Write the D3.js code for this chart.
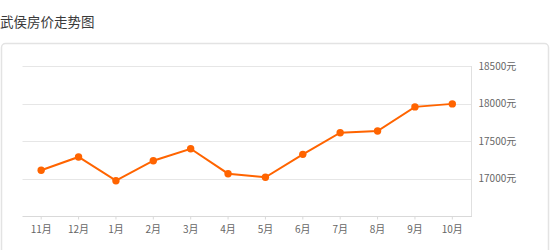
<!DOCTYPE html>
<html><head><meta charset="utf-8">
<script src="https://cdn.jsdelivr.net/npm/d3@7/dist/d3.min.js"></script>
<style>
html,body{margin:0;padding:0;background:#fff;overflow:hidden;}
svg{display:block;font-family:"Noto Sans CJK SC","Microsoft YaHei",sans-serif;}
</style></head>
<body>
<svg id="chart" width="550" height="250"></svg>
<script>
const title = "武侯房价走势图";
const months = ["11月","12月","1月","2月","3月","4月","5月","6月","7月","8月","9月","10月"];
const prices = [17110,17287,16971,17237,17397,17064,17016,17322,17611,17633,17955,17995];
const yTicks = [17000,17500,18000,18500];
const yUnit = "元";

(function(){
const svg = d3.select("#chart");
svg.append("text").attr("x",0).attr("y",27).attr("font-size",13.5).attr("fill","#3a3a3a").text(title);
svg.append("rect").attr("x",1.5).attr("y",43.5).attr("width",547).attr("height",260)
  .attr("rx",4).attr("fill","#fff").attr("stroke","#e3e3e3").attr("stroke-width",1.5);

const pL=22.5, pR=471, pT=66, pB=216;
const x = d3.scaleBand().domain(months).range([pL,pR]);
const y = d3.scaleLinear().domain([16500,18500]).range([pB,pT]);

svg.append("g").selectAll("line").data(yTicks).enter().append("line")
  .attr("x1",pL).attr("x2",pR)
  .attr("y1",d=>Math.round(y(d))+0.5).attr("y2",d=>Math.round(y(d))+0.5)
  .attr("stroke","#e6e6e6").attr("stroke-width",1);

const ra = svg.append("g").attr("transform",`translate(${Math.round(pR)+0.5},0)`)
  .call(d3.axisRight(y).tickValues(yTicks).tickSize(0).tickPadding(7).tickFormat(d=>d+yUnit));
ra.select(".domain").attr("stroke","#e0e0e0").attr("d",`M0,${pT}V${pB}`);
ra.selectAll("text").attr("font-size",10).attr("fill","#666").attr("font-family","'Noto Sans CJK SC',sans-serif");

const ba = svg.append("g").attr("transform",`translate(0,${pB+0.5})`)
  .call(d3.axisBottom(x).tickSize(3).tickPadding(6));
ba.select(".domain").attr("stroke","#d9d9d9").attr("d",`M${pL},0H${pR+1}`);
ba.selectAll(".tick line").attr("stroke","#d9d9d9");
ba.selectAll("text").attr("font-size",10).attr("fill","#666").attr("font-family","'Noto Sans CJK SC',sans-serif");

const cx = d=>x(d)+x.bandwidth()/2;
const line = d3.line().x((d,i)=>cx(months[i])).y(d=>y(d));
svg.append("path").datum(prices).attr("d",line).attr("fill","none")
  .attr("stroke","#ff6400").attr("stroke-width",2);
svg.selectAll("circle.pt").data(prices).enter().append("circle")
  .attr("cx",(d,i)=>cx(months[i])).attr("cy",d=>y(d)).attr("r",3.7).attr("fill","#ff6400");
})();
</script>
</body></html>
